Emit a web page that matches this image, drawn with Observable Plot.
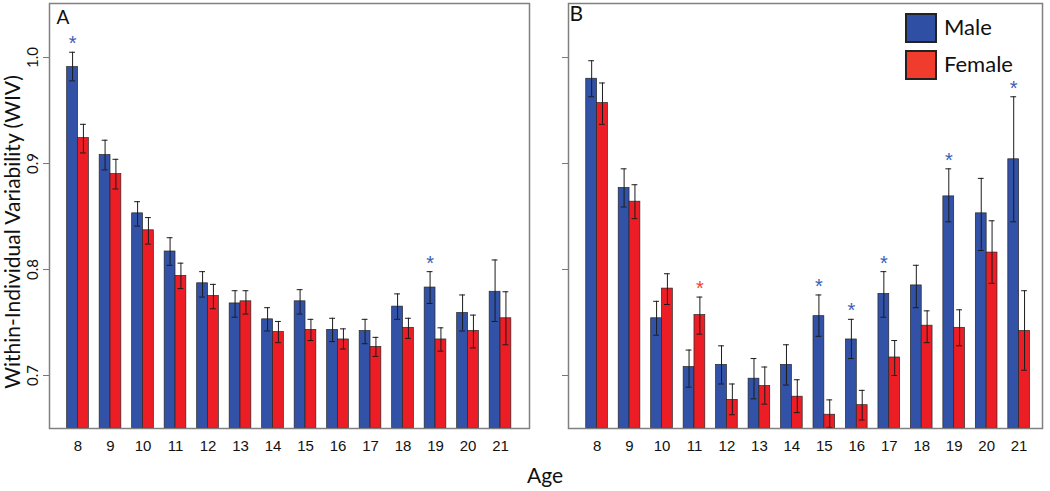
<!DOCTYPE html>
<html><head><meta charset="utf-8">
<script src="https://cdn.jsdelivr.net/npm/d3@7"></script>
<script src="https://cdn.jsdelivr.net/npm/@observablehq/plot@0.6"></script>
<style>
body{margin:0;background:#fff;}
#wrap{position:relative;width:1050px;height:491px;overflow:hidden;font-family:Lato,"Open Sans",sans-serif;color:#111;}
#wrap svg{position:absolute;top:0;}
.sw{position:absolute;width:32px;height:30px;box-sizing:border-box;border:2px solid #222;}
.lt{position:absolute;font-size:22px;line-height:30px;font-family:Lato,"Open Sans",sans-serif;}
#age{position:absolute;left:495px;width:100px;top:463px;text-align:center;font-size:21px;line-height:24px;}
</style></head><body><div id="wrap"></div>
<script>
const ages = [8,9,10,11,12,13,14,15,16,17,18,19,20,21];
const yTicks = [0.7,0.8,0.9,1.0];
const sexes = ["Male","Female"];
const barColors = ["#3252a8","#ec1d25"];
const starColors = ["#3d5cb6","#ee4338"];
const legendColors = ["#2f4fa5","#f03c2c"];

// Panel A
const aMale    = [0.991,0.908,0.853,0.817,0.787,0.768,0.753,0.770,0.743,0.742,0.765,0.783,0.759,0.779];
const aMaleLo  = [0.978,0.894,0.841,0.804,0.774,0.755,0.742,0.758,0.732,0.730,0.753,0.768,0.742,0.751];
const aMaleHi  = [1.005,0.922,0.864,0.830,0.798,0.780,0.764,0.781,0.754,0.753,0.777,0.798,0.776,0.809];
const aFemale   = [0.924,0.890,0.837,0.794,0.775,0.770,0.741,0.743,0.734,0.727,0.745,0.734,0.742,0.754];
const aFemaleLo = [0.910,0.876,0.824,0.782,0.763,0.758,0.731,0.733,0.725,0.718,0.735,0.723,0.726,0.729];
const aFemaleHi = [0.937,0.904,0.849,0.806,0.786,0.780,0.751,0.753,0.744,0.736,0.754,0.745,0.757,0.779];
const aSigMale = [8,19];
const aSigFemale = [];

// Panel B
const bMale    = [0.980,0.877,0.754,0.708,0.710,0.697,0.710,0.756,0.734,0.777,0.785,0.869,0.853,0.904];
const bMaleLo  = [0.963,0.859,0.738,0.689,0.692,0.678,0.691,0.737,0.716,0.755,0.764,0.845,0.818,0.845];
const bMaleHi  = [0.997,0.895,0.770,0.724,0.728,0.716,0.729,0.776,0.753,0.798,0.804,0.895,0.886,0.963];
const bFemale   = [0.957,0.864,0.782,0.757,0.677,0.690,0.680,0.663,0.672,0.717,0.747,0.745,0.816,0.742];
const bFemaleLo = [0.937,0.848,0.767,0.739,0.663,0.673,0.665,0.651,0.658,0.700,0.731,0.728,0.787,0.705];
const bFemaleHi = [0.976,0.880,0.796,0.774,0.692,0.708,0.696,0.677,0.686,0.733,0.761,0.762,0.846,0.780];
const bSigMale = [15,16,17,19,21];
const bSigFemale = [11];

const yDomain = [0.65, 1.051];
const barW = 1/3;     // bar width as a fraction of one age step
const capHalf = 0.09; // error-bar cap half width, in age units

function rowsFor(male, maleLo, maleHi, female, femaleLo, femaleHi, sigM, sigF) {
  const rows = [];
  ages.forEach((age, i) => {
    rows.push({age, sex: "Male", v: male[i], lo: maleLo[i], hi: maleHi[i],
      x1: age - barW, x2: age, xc: age - barW/2, sig: sigM.includes(age)});
    rows.push({age, sex: "Female", v: female[i], lo: femaleLo[i], hi: femaleHi[i],
      x1: age, x2: age + barW, xc: age + barW/2, sig: sigF.includes(age)});
  });
  return rows;
}

function panel(o) {
  const rows = rowsFor(...o.data);
  const marks = [
    Plot.rectY(rows, {x1: "x1", x2: "x2", y1: yDomain[0], y2: "v", fill: "sex", stroke: "#262626", strokeWidth: 0.7}),
    Plot.ruleX(rows, {x: "xc", y1: "lo", y2: "hi", stroke: "#1c1c1c", strokeWidth: 1}),
    Plot.ruleY(rows, {y: "hi", x1: d => d.xc - capHalf, x2: d => d.xc + capHalf, stroke: "#1c1c1c", strokeWidth: 1}),
    Plot.ruleY(rows, {y: "lo", x1: d => d.xc - capHalf, x2: d => d.xc + capHalf, stroke: "#1c1c1c", strokeWidth: 1}),
    Plot.text(rows.filter(d => d.sig), {x: "xc", y: "hi", text: () => "*", lineAnchor: "bottom", dy: -2,
      fill: d => starColors[sexes.indexOf(d.sex)], fontSize: 20, fontFamily: "Liberation Sans, sans-serif"}),
    Plot.frame({stroke: "#808080", strokeWidth: 1.5}),
    Plot.axisX({ticks: ages, tickSize: 0, tickPadding: 12, tickFormat: d => String(d)}),
    Plot.axisY({ticks: yTicks, tickSize: 6, tickFormat: () => "", stroke: "#777"}),
    Plot.text([o.letter], {frameAnchor: "top-left", dx: o.letterDx, dy: o.letterDy, lineAnchor: "top",
      fontSize: o.letterSize, fontFamily: "Lato, Open Sans, sans-serif"})
  ];
  if (o.yLabels) {
    marks.push(Plot.text(yTicks, {y: d => d, text: d => d.toFixed(1), frameAnchor: "left", dx: -16, rotate: -90,
      lineAnchor: "middle", textAnchor: "middle", fontSize: 15, fontFamily: "Lato, Open Sans, sans-serif"}));
    marks.push(Plot.text(["Within-Individual Variability (WIV)"], {frameAnchor: "left", dx: -36, dy: 16, rotate: -90,
      lineAnchor: "middle", textAnchor: "middle", fontSize: 21, fontFamily: "Lato, Open Sans, sans-serif"}));
  }
  return Plot.plot({
    width: o.width, height: 460,
    marginLeft: o.marginLeft, marginRight: o.marginRight, marginTop: 3, marginBottom: 32,
    x: {type: "linear", domain: o.xDomain, axis: null},
    y: {domain: yDomain, axis: null},
    color: {domain: sexes, range: barColors},
    style: {fontFamily: "Liberation Sans Narrow, Liberation Sans, sans-serif", fontSize: "15px", background: "transparent", overflow: "visible", color: "#111"},
    marks
  });
}

const wrap = document.getElementById("wrap");
const svgA = panel({
  data: [aMale, aMaleLo, aMaleHi, aFemale, aFemaleLo, aFemaleHi, aSigMale, aSigFemale],
  letter: "A", letterDx: 7, letterDy: 7, letterSize: 19,
  width: 540, marginLeft: 49, marginRight: 11, xDomain: [7.123, 21.892], yLabels: true
});
svgA.style.left = "0px";
wrap.appendChild(svgA);
const svgB = panel({
  data: [bMale, bMaleLo, bMaleHi, bFemale, bFemaleLo, bFemaleHi, bSigMale, bSigFemale],
  letter: "B", letterDx: 1, letterDy: 3, letterSize: 21,
  width: 510, marginLeft: 28, marginRight: 8, xDomain: [7.12, 21.72], yLabels: false
});
svgB.style.left = "540px";
wrap.appendChild(svgB);

// legend
sexes.forEach((s, i) => {
  const sw = document.createElement("div");
  sw.className = "sw";
  sw.style.left = "905px";
  sw.style.top = (13 + i * 37) + "px";
  sw.style.background = legendColors[i];
  wrap.appendChild(sw);
  const t = document.createElement("div");
  t.className = "lt";
  t.style.left = "944px";
  t.style.top = (12 + i * 37) + "px";
  t.textContent = s;
  wrap.appendChild(t);
});
const age = document.createElement("div");
age.id = "age";
age.textContent = "Age";
wrap.appendChild(age);
</script>
</body></html>
